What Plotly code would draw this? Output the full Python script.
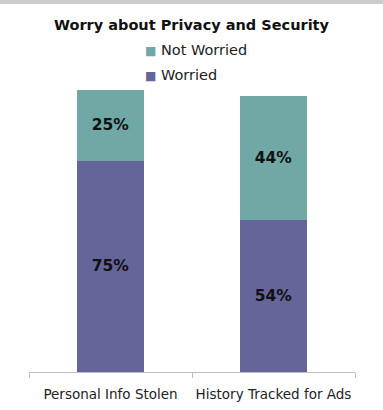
import plotly.graph_objects as go

categories = ["Personal Info Stolen", "History Tracked for Ads"]
worried = [75, 54]
not_worried = [25, 44]
legend_names = ["Not Worried", "Worried"]

col_worried = "#65659a"
col_not = "#6fa8a5"

fig = go.Figure()
fig.add_trace(go.Bar(
    x=categories, y=worried, name="Worried", showlegend=False,
    marker=dict(color=col_worried, line=dict(width=0)),
    text=[f"{v}%" for v in worried], textposition="inside",
    insidetextanchor="middle",
    textfont=dict(family="DejaVu Sans", size=15.5, color="#111111"),
))
fig.add_trace(go.Bar(
    x=categories, y=not_worried, name="Not Worried", showlegend=False,
    marker=dict(color=col_not, line=dict(width=0)),
    text=[f"{v}%" for v in not_worried], textposition="inside",
    insidetextanchor="middle",
    textfont=dict(family="DejaVu Sans", size=15.5, color="#111111"),
))
fig.update_traces(texttemplate="<b>%{text}</b>")

annotations = []
for i, (name, col) in enumerate(zip(legend_names, [col_not, col_worried])):
    annotations.append(dict(
        xref="paper", yref="paper", x=(143 - 29) / 326, xanchor="left",
        y=1 + (90 - 50 - 25 * i) / 282, yanchor="middle", showarrow=False,
        text=f"<span style='color:{col};font-size:12px'>■</span> {name}",
        font=dict(family="DejaVu Sans", size=14.5, color="#222222"),
    ))

fig.update_layout(
    width=383, height=410,
    barmode="stack", bargap=0.595,
    margin=dict(l=29, r=28, t=90, b=38, autoexpand=False),
    paper_bgcolor="white", plot_bgcolor="white",
    showlegend=False,
    title=dict(text="<b>Worry about Privacy and Security</b>",
               x=0.5, xanchor="center", y=1 - 25 / 410, yanchor="middle",
               font=dict(family="DejaVu Sans", size=14.5, color="#111111")),
    annotations=annotations,
    xaxis=dict(showline=True, linecolor="#bfbfbf", linewidth=1,
               ticks="outside", tickson="boundaries", ticklen=5, tickcolor="#bfbfbf",
               ticklabelstandoff=10, tickangle=0,
               tickfont=dict(family="DejaVu Sans", size=13.5, color="#222222"),
               showgrid=False),
    yaxis=dict(range=[0, 100], visible=False, showgrid=False),
    # thin grey frame band along the top edge of the picture
    shapes=[dict(type="line", xref="paper", yref="paper",
                 x0=-0.1, x1=1.1, y0=1 + 88 / 282, y1=1 + 88 / 282,
                 line=dict(color="#cccccc", width=4), layer="above")],
)

fig.write_html("out.html")
